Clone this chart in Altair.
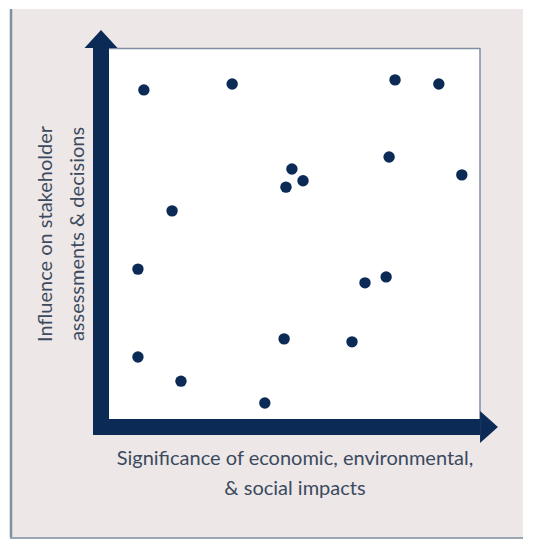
import altair as alt
import pandas as pd

# significance (x) and influence (y) of each material topic, 0-100 scale
sig = [9.4, 33.2, 77.1, 88.9, 75.5, 95.1, 49.3, 47.7, 52.3, 17.0,
       7.8, 69.0, 74.7, 47.2, 65.5, 7.8, 19.4, 42.0]
inf = [88.7, 90.3, 91.4, 90.3, 70.6, 65.8, 67.4, 62.5, 64.2, 56.1,
       40.4, 36.7, 38.3, 21.6, 20.8, 16.7, 10.2, 4.3]
x_title = ["Significance of economic, environmental,", "& social impacts"]
y_title = ["Influence on stakeholder", "assessments & decisions"]

NAVY = "#0b2a55"
PINK = "#ede7e7"
GREY = "#7f8fa3"
TEXT = "#3b4a5e"
W = 371
H = 371

pts = pd.DataFrame({"sig": sig, "inf": inf})
one = pd.DataFrame({"a": [0]})

frame = alt.Chart(one).mark_rect(fill=PINK).encode(
    x=alt.value(-99), x2=alt.value(414), y=alt.value(-39), y2=alt.value(489))
frame_left = alt.Chart(one).mark_rule(color=GREY, strokeWidth=2.5).encode(
    x=alt.value(-98), y=alt.value(-39), y2=alt.value(490))
frame_bottom = alt.Chart(one).mark_rule(color="#9aa6b2", strokeWidth=2).encode(
    x=alt.value(-99), x2=alt.value(414), y=alt.value(490))

plot_bg = alt.Chart(one).mark_rect(fill="white").encode(
    x=alt.value(0), x2=alt.value(W), y=alt.value(0), y2=alt.value(H))
plot_top = alt.Chart(one).mark_rule(color=GREY, strokeWidth=1.5).encode(
    x=alt.value(0), x2=alt.value(W), y=alt.value(0.5))
plot_right = alt.Chart(one).mark_rule(color=GREY, strokeWidth=1.5).encode(
    x=alt.value(W), y=alt.value(0), y2=alt.value(H))

v_shaft = alt.Chart(one).mark_rect(fill=NAVY).encode(
    x=alt.value(-16), x2=alt.value(0), y=alt.value(0), y2=alt.value(H + 16))
h_shaft = alt.Chart(one).mark_rect(fill=NAVY).encode(
    x=alt.value(-16), x2=alt.value(W), y=alt.value(H), y2=alt.value(H + 16))
v_head = alt.Chart(one).mark_point(
    filled=True, opacity=1, color=NAVY, size=1089,
    shape="M0,-0.55L1,0.55L-1,0.55Z").encode(x=alt.value(-8), y=alt.value(-9))
h_head = alt.Chart(one).mark_point(
    filled=True, opacity=1, color=NAVY, size=1024,
    shape="M0.56,0L-0.56,-1L-0.56,1Z").encode(x=alt.value(W + 9), y=alt.value(H + 8))

points = alt.Chart(pts).mark_circle(size=130, color=NAVY, opacity=1).encode(
    x=alt.X("sig:Q", scale=alt.Scale(domain=[0, 100], nice=False),
            axis=alt.Axis(title=x_title, domain=False, ticks=False, labels=False,
                          grid=False, titlePadding=29, titleLineHeight=30, zindex=1)),
    y=alt.Y("inf:Q", scale=alt.Scale(domain=[0, 100], nice=False),
            axis=alt.Axis(title=y_title, domain=False, ticks=False, labels=False,
                          grid=False, titlePadding=22, titleLineHeight=32, zindex=1)),
)

chart = alt.layer(
    frame, frame_left, frame_bottom, plot_bg, plot_top, plot_right,
    v_shaft, h_shaft, v_head, h_head, points
).properties(
    width=W, height=H, autosize="none",
    padding={"left": 101, "top": 40, "right": 45, "bottom": 125},
    background="white",
).configure_view(stroke=None).configure_axis(
    titleFont="Lato", titleFontSize=20, titleFontWeight="normal", titleColor=TEXT,
)

chart.save("out.html", embed_options={"renderer": "svg", "actions": False})
